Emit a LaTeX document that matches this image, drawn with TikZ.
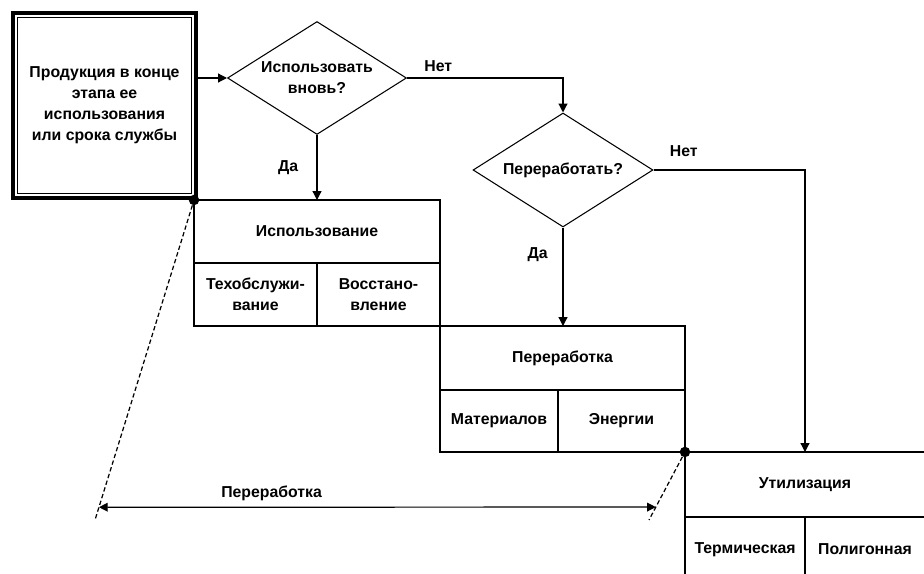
\documentclass[tikz,border=0pt]{standalone}
\usepackage{fontspec}
\setmainfont{Liberation Sans}
\usetikzlibrary{positioning,shapes.geometric,arrows.meta,calc}
\begin{document}
\begin{tikzpicture}
		[x=0.02cm,y=-0.02cm,
		every node/.style={font=\fontsize{9}{12}\selectfont\bfseries},
		box/.style={draw,line width=0.7pt,outer sep=0pt,minimum height=1.26cm,inner sep=1pt,align=center},
		ask/.style={draw,diamond,line width=0.6pt,aspect=1.6,inner sep=0pt,align=center},
		flow/.style={line width=0.7pt,-{Triangle[length=5pt,width=5pt]}},
		span/.style={line width=0.7pt,{Triangle[length=5pt,width=5pt]}-{Triangle[length=5pt,width=5pt]}},
		ray/.style={line width=0.7pt,dash pattern=on 2.5pt off 1.5pt},
		dot/.style={fill,circle,inner sep=0pt,minimum size=0.21cm}]
		\clip (0,0) rectangle (924,574);
		\node[draw,line width=2.3pt,minimum width=3.66cm,minimum height=3.7cm,align=center] (start) at (104.5,105.5)
		{Продукция в конце\\этапа ее\\использования\\или срока службы};
		\draw[line width=1.1pt] ([shift={(0.13cm,0.13cm)}]start.south west) rectangle ([shift={(-0.13cm,-0.13cm)}]start.north east);
		\node[ask,minimum width=3.58cm,minimum height=2.26cm] (reuse) at (317,78) {Использовать\\вновь?};
		\node[ask,minimum width=3.6cm,minimum height=2.28cm] (recycle) at (563,170) {Переработать?};
		\node[box,minimum width=4.92cm] (use) at (317,231.5) {Использование};
		\node[box,minimum width=2.46cm,below right=0pt and 0pt of use.south west] (service) {Техобслужи-\\вание};
		\node[box,minimum width=2.46cm,right=0pt of service] (restore) {Восстано-\\вление};
		\node[box,minimum width=4.9cm,minimum height=1.28cm] (rec) at (562.5,358) {Переработка};
		\node[box,minimum width=2.36cm,minimum height=1.24cm,below right=0pt and 0pt of rec.south west] (matter) {Материалов};
		\node[box,minimum width=2.54cm,minimum height=1.24cm,right=0pt of matter] (energy) {Энергии};
		\node[box,minimum width=4.8cm,minimum height=1.3cm] (util) at (805,484.5) {Утилизация};
		\node[box,minimum width=2.4cm,minimum height=1.3cm,below right=0pt and 0pt of util.south west] (thermal) {Термическая};
		\node[box,minimum width=2.4cm,minimum height=1.3cm,right=0pt of thermal] (landfill) {Полигонная};
		\draw[flow] (reuse.west -| start.east) -- (reuse.west);
		\draw[flow] (reuse.east) -| node[pos=0.1,above] {Нет} (recycle.north);
		\draw[flow] (reuse.south) -- node[left=7pt] {Да} (reuse.south |- use.north);
		\draw[flow] (recycle.east) -| node[pos=0.1,above=4pt] {Нет} (util.north);
		\draw[flow] (recycle.south) -- node[pos=0.28,left=5pt] {Да} (recycle.south |- rec.north);
		\node[dot] (hinge) at (use.north west) {};
		\node[dot] (pivot) at (energy.south east) {};
		\coordinate (footA) at (95,520);
		\coordinate (footB) at (649,520);
		\draw[ray] (hinge) -- (footA);
		\draw[ray] (pivot) -- (footB);
		\draw[span] ($(hinge)!0.96!(footA)$) -- node[pos=0.31,above] {Переработка} ($(pivot)!0.81!(footB)$);
\end{tikzpicture}
\end{document}
